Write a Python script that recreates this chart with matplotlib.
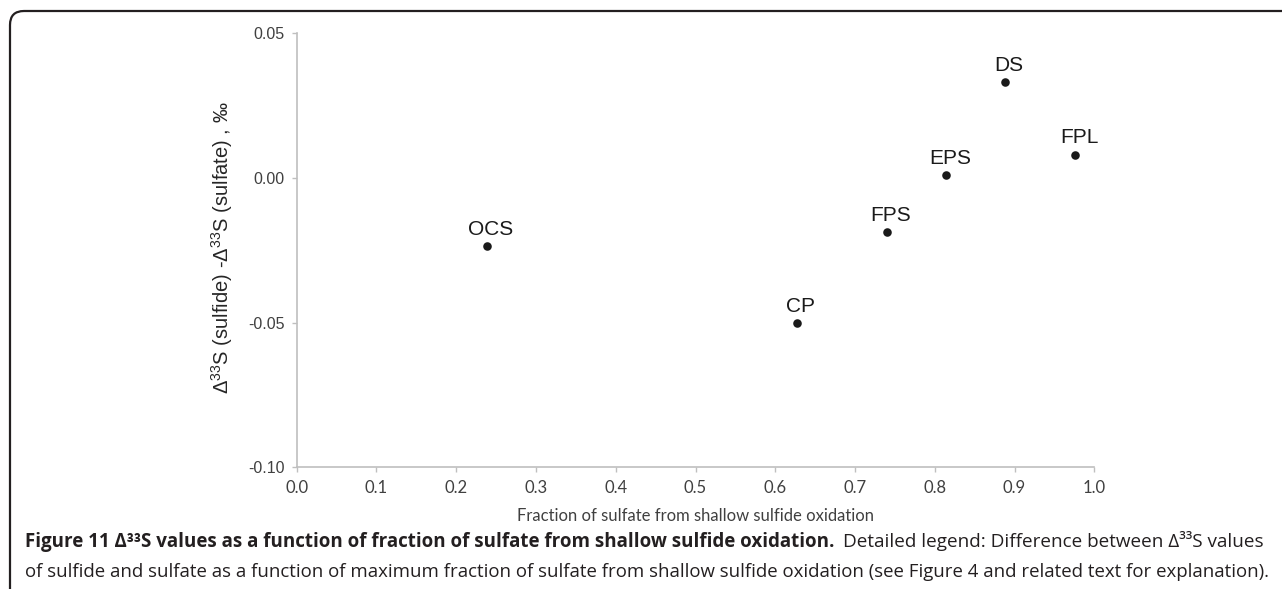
import matplotlib
matplotlib.use("Agg")
import matplotlib.pyplot as plt
import matplotlib.transforms as mtransforms
from matplotlib.patches import FancyBboxPatch
from matplotlib.ticker import FormatStrFormatter

# values
SITES = ["OCS", "CP", "FPS", "EPS", "DS", "FPL"]
FRACTION = [0.238, 0.627, 0.740, 0.814, 0.888, 0.976]
DELTA_DIFF = [-0.0236, -0.0500, -0.0186, 0.0011, 0.0330, 0.0081]
X_TICKS = [0.0, 0.1, 0.2, 0.3, 0.4, 0.5, 0.6, 0.7, 0.8, 0.9, 1.0]
Y_TICKS = [-0.10, -0.05, 0.00, 0.05]

CAPTION_BOLD = ("Figure 11 \u0394\u00b3\u00b3S values as a function of fraction "
                "of sulfate from shallow sulfide oxidation.")
CAPTION_1 = "Detailed legend: Difference between \u0394\u00b3\u00b3S values"
CAPTION_2 = ("of sulfide and sulfate as a function of maximum fraction of sulfate "
             "from shallow sulfide oxidation (see Figure 4 and related text for explanation).")
Y_LABEL = "$\u0394^{33}$S (sulfide) -$\u0394^{33}$S (sulfate) , \u2030"
X_LABEL = "Fraction of sulfate from shallow sulfide oxidation"

AXIS_GREY = "#bfbfbf"
TICK_TEXT = "#404040"
INK = "#231f20"

plt.rcParams["axes.unicode_minus"] = False
plt.rcParams["mathtext.fontset"] = "custom"
plt.rcParams["mathtext.rm"] = "Liberation Sans"
plt.rcParams["mathtext.default"] = "regular"

W, H, DPI = 1282, 589, 100
fig = plt.figure(figsize=(W / DPI, H / DPI), dpi=DPI)
ax = fig.add_axes([296.7 / W, 1 - 467.3 / H, 797.6 / W, 434 / H])

ax.scatter(FRACTION, DELTA_DIFF, s=38, color="#1a1a1a", linewidths=0, zorder=3)
for name, x, y in zip(SITES, FRACTION, DELTA_DIFF):
    ax.annotate(name, (x, y), xytext=(3, 8), textcoords="offset points",
                ha="center", va="baseline", fontsize=15, color="#1a1a1a",
                family=["Liberation Sans", "DejaVu Sans"])

ax.set_xlim(0, 1.0)
ax.set_ylim(-0.10, 0.05)
ax.set_xticks(X_TICKS)
ax.set_yticks(Y_TICKS)
ax.xaxis.set_major_formatter(FormatStrFormatter("%.1f"))
ax.yaxis.set_major_formatter(FormatStrFormatter("%.2f"))
ax.spines[["top", "right"]].set_visible(False)
for side in ("left", "bottom"):
    ax.spines[side].set_color(AXIS_GREY)
    ax.spines[side].set_linewidth(1.2)
ax.tick_params(axis="both", colors=AXIS_GREY, length=3.5, width=1.0, labelcolor=TICK_TEXT)
ax.tick_params(axis="x", pad=6, labelsize=12, labelfontfamily="Lato")
ax.tick_params(axis="y", pad=5, labelsize=11.5, labelfontfamily="Liberation Sans")

ax.set_xlabel(X_LABEL, family=["Lato", "DejaVu Sans"], fontsize=12,
              color=TICK_TEXT, labelpad=8)
ax.set_ylabel(Y_LABEL, family=["Liberation Sans", "DejaVu Sans"], fontsize=14.5,
              color="#262626")
ax.yaxis.set_label_coords(-0.094, 0.505)
ax.yaxis.label.set_verticalalignment("center")

# journal frame with rounded top-left corner
frame = FancyBboxPatch((0.10, -1.0), 14.0, 5.78 + 1.0,
                       boxstyle="round,pad=0,rounding_size=0.14",
                       transform=fig.dpi_scale_trans, fill=False,
                       linewidth=1.6, edgecolor=INK)
fig.add_artist(frame)

px = mtransforms.IdentityTransform()
cap_font = ["Open Sans", "DejaVu Sans"]
t_bold = fig.text(25, H - 547, CAPTION_BOLD, transform=px, family=cap_font,
                  fontweight="bold", fontsize=12, color=INK, va="baseline")
t_one = fig.text(843, H - 547, CAPTION_1, transform=px, family=cap_font,
                 fontsize=12, color=INK, va="baseline")
t_two = fig.text(25, H - 577, CAPTION_2, transform=px, family=cap_font,
                 fontsize=12, color=INK, va="baseline")

# squeeze caption runs to the widths they take in the reference
renderer = fig.canvas.get_renderer()
for txt, width in ((t_bold, 811), (t_one, 419), (t_two, 1237)):
    w = txt.get_window_extent(renderer).width
    txt.set_fontsize(txt.get_fontsize() * width / w)

fig.savefig("out.png", dpi=DPI)
